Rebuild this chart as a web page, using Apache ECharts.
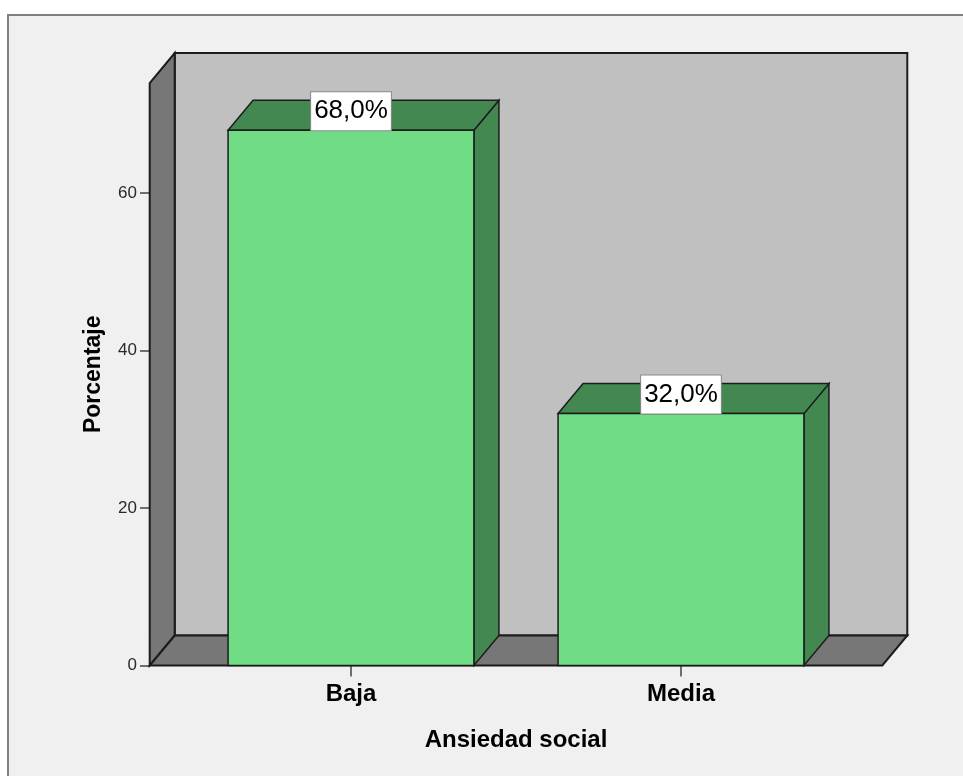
<!DOCTYPE html>
<html>
<head>
<meta charset="utf-8">
<title>Ansiedad social</title>
<script src="https://cdn.jsdelivr.net/npm/echarts@6/dist/echarts.min.js"></script>
<style>
  html, body { margin: 0; padding: 0; background: #ffffff; }
  #chart { width: 963px; height: 776px; }
</style>
</head>
<body>
<div id="chart"></div>
<script>
// categorías y porcentajes
const categories = ['Baja', 'Media'];
const percentages = [68.0, 32.0];
const yTicks = [0, 20, 40, 60];
const yMax = 74;

const FONT = '"Liberation Sans", Arial, sans-serif';
// desplazamiento de profundidad (efecto 3D)
const DX = 25, DY = -30;
const LINE = '#1c1c1c';

function fmtPct(v) {
    return v.toFixed(1).replace('.', ',') + '%';
}

// paredes del fondo, lateral y suelo
function renderWalls(params, api) {
    const cs = params.coordSys;
    const band = api.size([1, 0])[0];
    const pad = band * 0.11;
    const x0 = cs.x - pad, x1 = cs.x + cs.width + pad;
    const yb = api.coord([0, 0])[1];
    const yt = api.coord([0, yMax])[1];
    return {
        type: 'group',
        children: [{
            type: 'polygon',
            shape: {points: [[x0 + DX, yt + DY], [x1 + DX, yt + DY], [x1 + DX, yb + DY], [x0 + DX, yb + DY]]},
            style: {fill: '#c0c0c0', stroke: LINE, lineWidth: 2}
        }, {
            type: 'polygon',
            shape: {points: [[x0, yb], [x0, yt], [x0 + DX, yt + DY], [x0 + DX, yb + DY]]},
            style: {fill: '#777777', stroke: LINE, lineWidth: 2}
        }, {
            type: 'polygon',
            shape: {points: [[x0, yb], [x1, yb], [x1 + DX, yb + DY], [x0 + DX, yb + DY]]},
            style: {fill: '#777777', stroke: LINE, lineWidth: 2}
        }]
    };
}

// barras 3D con etiqueta
function renderBar(params, api) {
    const i = api.value(0);
    const v = api.value(1);
    const top = api.coord([i, v]);
    const base = api.coord([i, 0]);
    const w = api.size([1, 0])[0] * 0.745;
    const l = top[0] - w / 2, r = top[0] + w / 2;
    const t = top[1], b = base[1];
    const dark = '#438850';
    return {
        type: 'group',
        children: [{
            type: 'polygon',
            shape: {points: [[r, b], [r, t], [r + DX, t + DY], [r + DX, b + DY]]},
            style: {fill: dark, stroke: LINE, lineWidth: 1.5}
        }, {
            type: 'polygon',
            shape: {points: [[l, t], [r, t], [r + DX, t + DY], [l + DX, t + DY]]},
            style: {fill: dark, stroke: LINE, lineWidth: 1.5}
        }, {
            type: 'rect',
            shape: {x: l, y: t, width: w, height: b - t},
            style: {fill: '#70dd86', stroke: LINE, lineWidth: 1.5}
        }, {
            type: 'text',
            x: top[0],
            y: t,
            style: {
                text: fmtPct(v),
                font: '26px ' + FONT,
                fill: '#000',
                align: 'center',
                verticalAlign: 'bottom',
                lineHeight: 26,
                backgroundColor: '#ffffff',
                borderColor: '#8a8a8a',
                borderWidth: 1,
                padding: [6, 3, 6, 3]
            }
        }]
    };
}

const chart = echarts.init(document.getElementById('chart'), null, {renderer: 'canvas'});

const option = {
    animation: false,
    backgroundColor: '#ffffff',
    graphic: [{
        type: 'rect',
        left: 7,
        top: 14,
        shape: {width: 970, height: 780},
        style: {fill: '#f0f0f0', stroke: '#808080', lineWidth: 2},
        z: -10
    }],
    grid: {left: 186, right: 117, top: 83, bottom: 110.5},
    xAxis: {
        type: 'category',
        data: categories,
        name: 'Ansiedad social',
        nameLocation: 'middle',
        nameGap: 63,
        nameTextStyle: {fontFamily: FONT, fontSize: 24, fontWeight: 'bold', color: '#000'},
        axisLine: {show: false},
        axisTick: {show: true, alignWithLabel: true, length: 11, lineStyle: {color: '#444', width: 1.5}},
        axisLabel: {fontFamily: FONT, fontSize: 24, fontWeight: 'bold', color: '#000', margin: 17},
        splitLine: {show: false}
    },
    yAxis: {
        type: 'value',
        min: 0,
        max: yMax,
        offset: 36,
        name: 'Porcentaje',
        nameLocation: 'middle',
        nameGap: 45,
        nameTextStyle: {fontFamily: FONT, fontSize: 23, fontWeight: 'bold', color: '#000'},
        axisLine: {show: false},
        axisTick: {show: true, length: 10, customValues: yTicks, lineStyle: {color: '#444', width: 1.5}},
        axisLabel: {fontFamily: FONT, fontSize: 17, color: '#2a2a2a', margin: 13, customValues: yTicks},
        splitLine: {show: false}
    },
    series: [{
        type: 'custom',
        z: 1,
        silent: true,
        renderItem: renderWalls,
        data: [[0, 0]]
    }, {
        type: 'custom',
        z: 2,
        renderItem: renderBar,
        encode: {x: 0, y: 1},
        data: percentages.map((p, i) => [i, p])
    }]
};

chart.setOption(option);
</script>
</body>
</html>
